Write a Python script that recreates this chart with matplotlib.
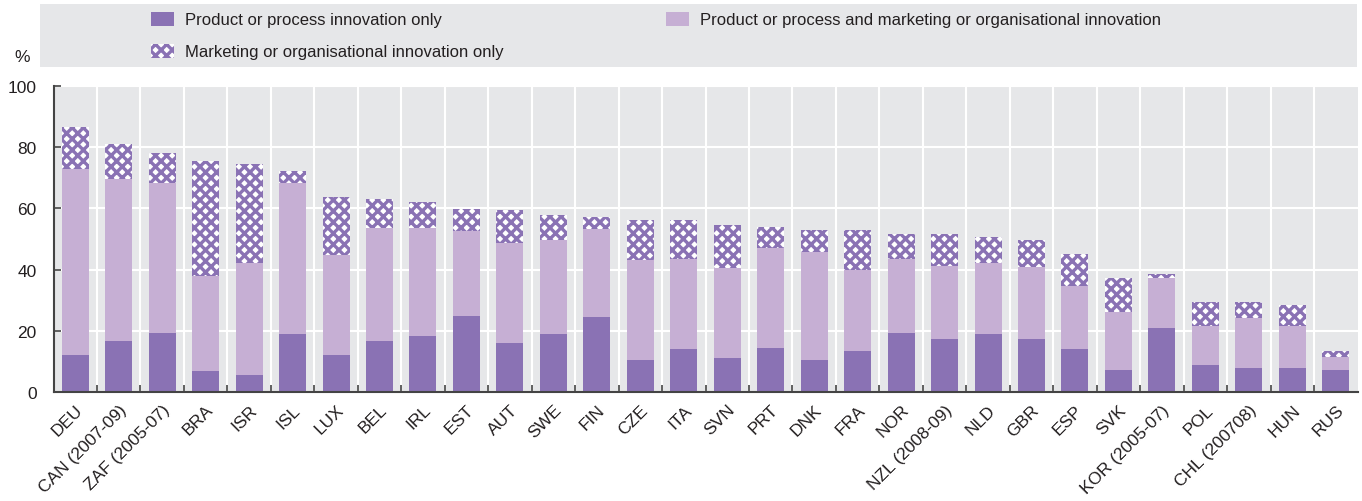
import matplotlib
matplotlib.use("Agg")
import matplotlib.pyplot as plt
from matplotlib.patches import Rectangle
import numpy as np

countries = ["DEU", "CAN (2007-09)", "ZAF (2005-07)", "BRA", "ISR", "ISL", "LUX", "BEL", "IRL", "EST",
             "AUT", "SWE", "FIN", "CZE", "ITA", "SVN", "PRT", "DNK", "FRA", "NOR",
             "NZL (2008-09)", "NLD", "GBR", "ESP", "SVK", "KOR (2005-07)", "POL", "CHL (200708)", "HUN", "RUS"]
product_only = [12.0, 16.6, 19.4, 6.7, 5.6, 18.8, 12.0, 16.6, 18.2, 25.0,
                16.1, 19.1, 24.6, 10.6, 13.9, 11.2, 14.3, 10.6, 13.3, 19.2,
                17.3, 18.8, 17.3, 14.0, 7.1, 21.0, 8.8, 7.7, 7.7, 7.1]
both = [61.0, 52.9, 49.0, 31.1, 36.4, 49.6, 32.8, 37.1, 35.5, 27.5,
        32.6, 30.7, 28.7, 32.4, 29.5, 29.4, 32.9, 35.2, 26.5, 24.3,
        23.8, 23.5, 23.6, 20.7, 19.2, 16.2, 12.7, 16.4, 13.8, 4.2]
marketing_only = [13.5, 11.7, 9.6, 37.6, 32.4, 3.8, 19.0, 9.5, 8.4, 7.4,
                  10.7, 8.0, 3.9, 13.2, 12.8, 14.0, 6.8, 7.2, 13.2, 8.2,
                  10.6, 8.5, 8.8, 10.3, 11.1, 1.5, 7.9, 5.3, 6.8, 2.0]
legend_labels = ["Product or process innovation only",
                 "Product or process and marketing or organisational innovation",
                 "Marketing or organisational innovation only"]

DARK = "#8a72b4"
LIGHT = "#c6afd4"
BG = "#e6e7e9"
TXT = "#231f20"
plt.rcParams['hatch.linewidth'] = 2.4
FONT = ['Liberation Sans', 'DejaVu Sans']
plt.rcParams['font.family'] = FONT

W, H = 1362, 502
fig = plt.figure(figsize=(W / 100, H / 100), dpi=100)
ax = fig.add_axes([53.5 / W, (H - 393) / H, (1357.5 - 53.5) / W, (393 - 87) / H])
ax.set_facecolor(BG)

x = np.arange(len(countries))
bw = 0.62
p = np.array(product_only)
b = np.array(both)
m = np.array(marketing_only)
ax.bar(x, p, bw, color=DARK, linewidth=0, zorder=3)
ax.bar(x, b, bw, bottom=p, color=LIGHT, linewidth=0, zorder=3)
ax.bar(x, m, bw, bottom=p + b, facecolor="white", edgecolor=DARK, hatch="xxx", linewidth=0, zorder=3)

ax.set_xlim(-0.5, len(countries) - 0.5)
ax.set_ylim(0, 100)
ax.set_yticks([0, 20, 40, 60, 80, 100])
ax.set_xticks(x)
ax.set_xticklabels(countries, rotation=45, ha="right", rotation_mode="anchor", fontsize=12.5, color=TXT)
ax.set_xticks(np.arange(0.5, len(countries) - 0.5, 1.0), minor=True)
ax.tick_params(axis="x", which="major", length=0, pad=7)
ax.tick_params(axis="x", which="minor", length=5, direction="in", color="#444444", width=1.2)
ax.tick_params(axis="y", length=5, direction="in", color="#444444", width=1.2, labelsize=12.5, labelcolor=TXT, pad=12)
ax.grid(axis="y", color="white", linewidth=1.5, zorder=1)
ax.grid(axis="x", which="minor", color="white", linewidth=1.5, zorder=1)
ax.set_axisbelow(True)
for s in ["top", "right"]:
    ax.spines[s].set_visible(False)
for s in ["left", "bottom"]:
    ax.spines[s].set_color("#444444")
    ax.spines[s].set_linewidth(1.5)
    ax.spines[s].set_zorder(4)

fig.text(22 / W, 1 - 58 / H, "%", fontsize=12.5, color=TXT, ha="center", va="center")

# legend box
fig.patches.append(Rectangle((40 / W, 1 - 68 / H), (1357 - 40) / W, 63 / H,
                             transform=fig.transFigure, facecolor=BG, edgecolor="none", zorder=0))
items = [(151, 20, dict(facecolor=DARK, edgecolor="none"), legend_labels[0]),
         (666, 20, dict(facecolor=LIGHT, edgecolor="none"), legend_labels[1]),
         (151, 52, dict(facecolor="white", edgecolor=DARK, hatch="xxx", linewidth=0), legend_labels[2])]
for px, py, kw, lab in items:
    fig.patches.append(Rectangle((px / W, 1 - (py + 7) / H), 23 / W, 14 / H,
                                 transform=fig.transFigure, zorder=1, **kw))
    fig.text((px + 34) / W, 1 - py / H, lab, fontsize=12, color=TXT, ha="left", va="center")

fig.savefig("out.png", dpi=100)
